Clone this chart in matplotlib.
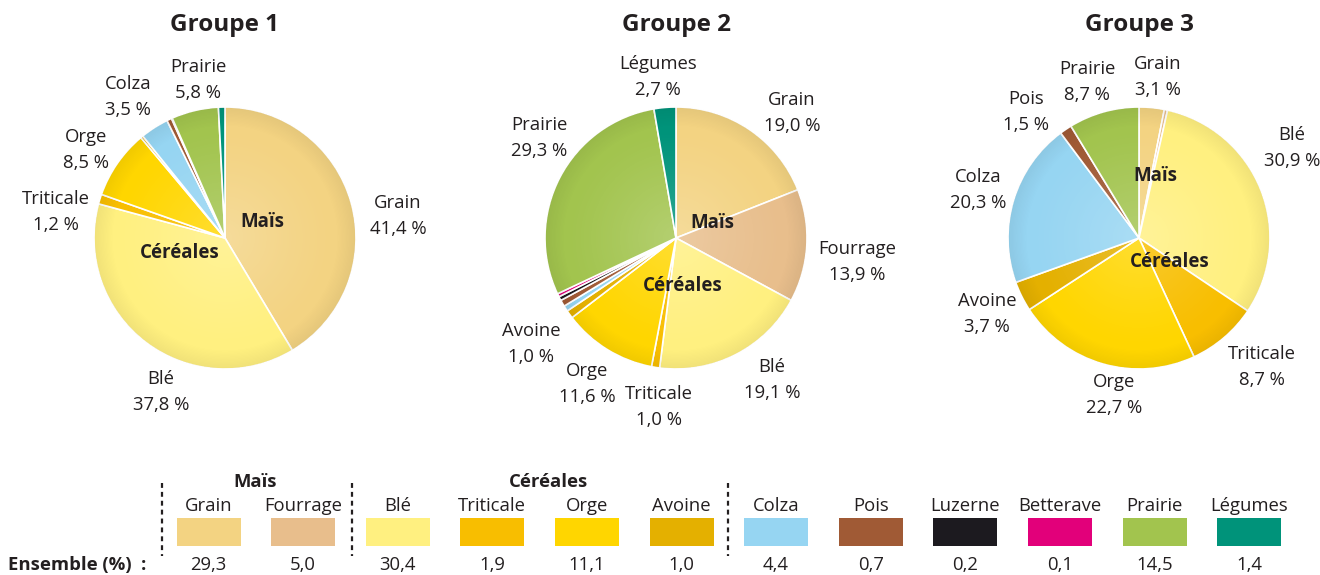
import matplotlib.pyplot as plt
import numpy as np
from matplotlib.patches import Circle, Rectangle

plt.rcParams['font.family'] = ['Open Sans', 'DejaVu Sans']

# categories, in pie order (clockwise from 12 o'clock)
cultures = ['Grain', 'Fourrage', 'Blé', 'Triticale', 'Orge', 'Avoine',
            'Colza', 'Pois', 'Luzerne', 'Betterave', 'Prairie', 'Légumes']
couleurs = ['#F3D382', '#E8BE8C', '#FFF080', '#F8BE00', '#FFD600', '#E4B000',
            '#96D5F2', '#A05A35', '#1C1A1F', '#E2007A', '#A2C44E', '#00937A']

# shares (%) per group
groupe1 = [41.4, 0.0, 37.8, 1.2, 8.5, 0.3, 3.5, 0.6, 0.1, 0.0, 5.8, 0.8]
groupe2 = [19.0, 13.9, 19.1, 1.0, 11.6, 1.0, 0.7, 0.8, 0.5, 0.4, 29.3, 2.7]
groupe3 = [3.1, 0.4, 30.9, 8.7, 22.7, 3.7, 20.3, 1.5, 0.0, 0.0, 8.7, 0.0]
ensemble = [29.3, 5.0, 30.4, 1.9, 11.1, 1.0, 4.4, 0.7, 0.2, 0.1, 14.5, 1.4]

titres = ['Groupe 1', 'Groupe 2', 'Groupe 3']

# labelled slices per group: (category, x, y)
etiquettes1 = [('Grain', 398, 216), ('Blé', 161, 392), ('Triticale', 56, 212),
               ('Orge', 86, 150), ('Colza', 128, 97), ('Prairie', 198, 80)]
etiquettes2 = [('Légumes', 658, 77), ('Grain', 792, 113), ('Prairie', 539, 138),
               ('Fourrage', 857, 262), ('Avoine', 531, 344), ('Orge', 587, 384),
               ('Triticale', 659, 407), ('Blé', 772, 380)]
etiquettes3 = [('Prairie', 1087, 82), ('Grain', 1158, 77), ('Pois', 1026, 112),
               ('Blé', 1292, 148), ('Colza', 978, 190), ('Avoine', 987, 314),
               ('Triticale', 1262, 367), ('Orge', 1114, 395)]

TXT = '#231F20'
R = 131
centres = [(225, 238), (676, 238), (1139, 238)]
mais_pos = [(262, 222), (712, 223), (1155, 176)]
cereales_pos = [(180, 253), (683, 286), (1170, 262)]

fig = plt.figure(figsize=(13.2, 5.75), dpi=100)
ax = fig.add_axes([0, 0, 1, 1])


def fmt(v):
    return f'{v:.1f}'.replace('.', ',')


# radial shading: lighter centre, slightly deeper rim
n = 300
g = np.linspace(-1, 1, n)
xx, yy = np.meshgrid(g, g)
rr = np.sqrt(xx ** 2 + yy ** 2)
shade = np.zeros((n, n, 4))
inner = rr < 0.85
shade[inner, :3] = 1.0
shade[inner, 3] = 0.2 * (1 - rr[inner] / 0.85) ** 1.2
outer = (rr >= 0.85) & (rr <= 1)
shade[outer, 3] = 0.06 * (rr[outer] - 0.85) / 0.15

groupes = [groupe1, groupe2, groupe3]
etiquettes = [etiquettes1, etiquettes2, etiquettes3]
for k, vals in enumerate(groupes):
    cx, cy = centres[k]
    keep = [i for i, v in enumerate(vals) if v > 0]
    ax.pie([vals[i] for i in keep], colors=[couleurs[i] for i in keep],
           startangle=-90, counterclock=True, center=(cx, cy), radius=R,
           wedgeprops=dict(edgecolor='white', linewidth=1.2))
    im = ax.imshow(shade, extent=(cx - R, cx + R, cy + R, cy - R), zorder=3,
                   interpolation='bilinear')
    im.set_clip_path(Circle((cx, cy), R, transform=ax.transData))
    ax.text(cx, 25, titres[k], ha='center', va='center', fontsize=17.5,
            fontweight='bold', color=TXT)
    for nom, x, y in etiquettes[k]:
        v = vals[cultures.index(nom)]
        ax.text(x, y, f'{nom}\n{fmt(v)} %', ha='center', va='center',
                fontsize=13.3, color=TXT, linespacing=1.55, zorder=5)
    ax.text(*mais_pos[k], 'Maïs', ha='center', va='center', fontsize=13.5,
            fontweight='bold', color=TXT, zorder=5)
    ax.text(*cereales_pos[k], 'Céréales', ha='center', va='center', fontsize=13.5,
            fontweight='bold', color=TXT, zorder=5)

# legend table
x0, dx = 208.5, 94.6
for i, nom in enumerate(cultures):
    x = x0 + i * dx
    ax.text(x, 506, nom, ha='center', va='center', fontsize=13.3, color=TXT)
    ax.add_patch(Rectangle((x - 32, 518), 64, 28, facecolor=couleurs[i],
                           edgecolor='none'))
    ax.text(x, 565, fmt(ensemble[i]), ha='center', va='center', fontsize=13.3,
            color=TXT)

ax.text(255, 482, 'Maïs', ha='center', va='center', fontsize=13.3,
        fontweight='bold', color=TXT)
ax.text(548, 482, 'Céréales', ha='center', va='center', fontsize=13.3,
        fontweight='bold', color=TXT)
ax.text(8, 565, 'Ensemble (%)  :', ha='left', va='center', fontsize=13.3,
        fontweight='bold', color=TXT)
for xs in [162, 352, 728]:
    ax.plot([xs, xs], [483, 556], color=TXT, lw=1.6, ls=(0, (2.2, 1.8)))

ax.set_xlim(0, 1320)
ax.set_ylim(575, 0)
ax.set_aspect('equal')
ax.axis('off')

fig.savefig('out.png', dpi=100)
